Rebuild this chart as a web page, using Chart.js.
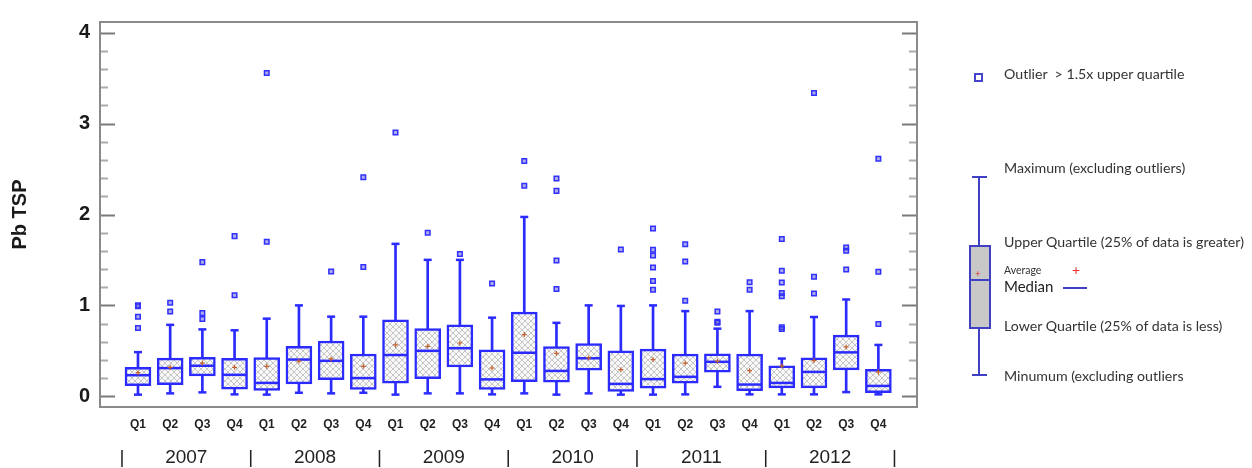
<!DOCTYPE html>
<html>

<head>
  <meta charset="UTF-8" />
  <title>Pb TSP by quarter</title>
  <script src="https://cdn.jsdelivr.net/npm/chart.js"></script>
  <style>
    body { margin: 0; background: #fff; }
    .wrap { position: relative; width: 1252px; height: 468px; }
    .lg { position: absolute; font-family: "Lato", "Liberation Sans", sans-serif; color: #333; white-space: pre; line-height: 1; }
    .ln { position: absolute; background: #4040c4; }
  </style>
</head>

<body>
  <div class="wrap">
    <canvas id="boxChart" width="1252" height="468"></canvas>

    <!-- legend drawn as plain html -->
    <div style="position:absolute;left:974px;top:73px;width:5px;height:5px;border:2px solid #4444cc;background:#fff"></div>
    <div class="lg" style="left:1004px;top:67px;font-size:14.2px">Outlier  &gt; 1.5x upper quartile</div>

    <div class="ln" style="left:978px;top:177px;width:2px;height:198px"></div>
    <div class="ln" style="left:972px;top:176px;width:15px;height:2px"></div>
    <div class="ln" style="left:972px;top:374px;width:15px;height:2px"></div>
    <div style="position:absolute;left:969px;top:245px;width:18px;height:80px;border:2px solid #4040c4;background:#c8c8c8"></div>
    <div class="ln" style="left:970px;top:279px;width:20px;height:2px"></div>
    <div class="lg" style="left:975px;top:268px;font-size:10px;color:#e03030">+</div>

    <div class="lg" style="left:1004px;top:161px;font-size:14.2px">Maximum (excluding outliers)</div>
    <div class="lg" style="left:1004px;top:235px;font-size:14.2px">Upper Quartile (25% of data is greater)</div>
    <div class="lg" style="left:1004px;top:265px;font-size:10.5px">Average</div>
    <div class="lg" style="left:1072px;top:263px;font-size:14px;color:#e03030">+</div>
    <div class="lg" style="left:1004px;top:279px;font-size:15px;color:#222">Median</div>
    <div class="ln" style="left:1063px;top:287px;width:24px;height:2px"></div>
    <div class="lg" style="left:1004px;top:319px;font-size:14.2px">Lower Quartile (25% of data is less)</div>
    <div class="lg" style="left:1004px;top:369px;font-size:14.2px">Minumum (excluding outliers</div>
  </div>

  <script>
    // labels
    const quarters = ["Q1", "Q2", "Q3", "Q4"];
    const years = ["2007", "2008", "2009", "2010", "2011", "2012"];
    const yTicks = [0, 1, 2, 3, 4];

    // one entry per quarter, 2007 Q1 .. 2012 Q4
    const whiskerMin = [0.018, 0.032, 0.043, 0.021, 0.018, 0.039, 0.032, 0.039, 0.018, 0.032, 0.032, 0.021,
      0.032, 0.018, 0.032, 0.018, 0.018, 0.021, 0.104, 0.021, 0.021, 0.021, 0.046, 0.021];
    const lowerQ = [0.118, 0.129, 0.225, 0.079, 0.064, 0.136, 0.182, 0.075, 0.143, 0.193, 0.322, 0.075,
      0.161, 0.154, 0.286, 0.054, 0.089, 0.143, 0.265, 0.061, 0.093, 0.093, 0.29, 0.039];
    const median = [0.232, 0.31, 0.336, 0.236, 0.147, 0.404, 0.39, 0.2, 0.454, 0.5, 0.529, 0.186,
      0.479, 0.279, 0.418, 0.136, 0.189, 0.214, 0.379, 0.129, 0.147, 0.268, 0.483, 0.114];
    const upperQ = [0.318, 0.42, 0.429, 0.418, 0.425, 0.55, 0.608, 0.465, 0.84, 0.744, 0.786, 0.511,
      0.926, 0.547, 0.579, 0.5, 0.518, 0.465, 0.468, 0.465, 0.336, 0.422, 0.672, 0.297];
    const whiskerMax = [0.486, 0.786, 0.736, 0.726, 0.854, 1.0, 0.876, 0.876, 1.677, 1.501, 1.501, 0.865,
      1.973, 0.808, 1.0, 0.994, 1.0, 0.937, 0.744, 0.937, 0.415, 0.872, 1.065, 0.565];
    const average = [0.26, 0.318, 0.365, 0.318, 0.329, 0.386, 0.411, 0.329, 0.565, 0.55, 0.586, 0.311,
      0.679, 0.472, 0.422, 0.293, 0.404, 0.365, 0.386, 0.282, 0.332, 0.393, 0.543, 0.268];
    const outliers = [
      [1.0, 0.99, 0.876, 0.75], [1.03, 0.933], [1.476, 0.915, 0.85], [1.762, 1.112],
      [3.557, 1.70], [], [1.373], [2.41, 1.423],
      [2.903], [1.80], [1.566], [1.24],
      [2.588, 2.316], [2.395, 2.26, 1.494, 1.18], [], [1.616],
      [1.845, 1.612, 1.548, 1.416, 1.269, 1.172], [1.673, 1.483, 1.051], [0.933, 0.82, 0.808], [1.255, 1.172],
      [1.73, 1.38, 1.251, 1.137, 1.10, 0.76, 0.74], [3.338, 1.315, 1.13], [1.637, 1.601, 1.394], [2.613, 1.369, 0.794]
    ];

    const BLUE = "#2b2bff";
    const FONT = "'Liberation Sans', Arial, sans-serif";
    const X_MIN = -1.18, X_MAX = 24.2;

    function hatch() {
      const c = document.createElement("canvas");
      c.width = 6; c.height = 6;
      const g = c.getContext("2d");
      g.fillStyle = "#f8f8f8";
      g.fillRect(0, 0, 6, 6);
      g.strokeStyle = "#c6c6c6";
      g.lineWidth = 1;
      g.beginPath();
      g.moveTo(0, 0); g.lineTo(6, 6);
      g.moveTo(6, 0); g.lineTo(0, 6);
      g.stroke();
      return g.createPattern(c, "repeat");
    }

    const idx = median.map((_, i) => i);
    const outlierPts = [];
    outliers.forEach((list, i) => list.forEach(v => outlierPts.push({ x: i, y: v })));

    // frame + the little ticks that sit inside the plot
    const framePlugin = {
      id: "frame",
      afterDraw(chart) {
        const { ctx, chartArea: a, scales } = chart;
        ctx.save();
        ctx.lineWidth = 2;
        for (let v = 0; v <= 4.001; v += 0.2) {
          const y = Math.round(scales.y.getPixelForValue(v)) + 0.5;
          const major = Math.abs(v - Math.round(v)) < 0.01;
          const len = major ? 15 : 8;
          ctx.strokeStyle = major ? "#7a7a7a" : "#ababab";
          ctx.beginPath();
          ctx.moveTo(a.left, y); ctx.lineTo(a.left + len, y);
          ctx.moveTo(a.right, y); ctx.lineTo(a.right - len, y);
          ctx.stroke();
        }
        ctx.strokeStyle = "#8a8a8a";
        ctx.strokeRect(a.left, a.top, a.right - a.left, a.bottom - a.top);
        ctx.restore();
      }
    };

    const noGrid = { display: false, drawTicks: false, tickLength: 0 };

    new Chart(document.getElementById("boxChart"), {
      type: "bar",
      data: {
        datasets: [
          {
            label: "whisker",
            data: idx.map(i => ({ x: i, y: [whiskerMin[i], whiskerMax[i]] })),
            backgroundColor: BLUE,
            borderWidth: 0,
            barThickness: 2,
            grouped: false,
            order: 6
          },
          {
            label: "box",
            data: idx.map(i => ({ x: i, y: [lowerQ[i], upperQ[i]] })),
            backgroundColor: hatch(),
            borderColor: BLUE,
            borderWidth: 2.5,
            borderSkipped: false,
            barThickness: 26,
            grouped: false,
            order: 5
          },
          {
            type: "scatter",
            label: "caps",
            data: idx.map(i => ({ x: i, y: whiskerMin[i] })).concat(idx.map(i => ({ x: i, y: whiskerMax[i] }))),
            pointStyle: "line",
            pointRadius: 4,
            borderColor: BLUE,
            borderWidth: 2.5,
            order: 4
          },
          {
            type: "scatter",
            label: "median",
            data: idx.map(i => ({ x: i, y: median[i] })),
            pointStyle: "line",
            pointRadius: 12,
            borderColor: BLUE,
            borderWidth: 2.5,
            order: 3
          },
          {
            type: "scatter",
            label: "average",
            data: idx.map(i => ({ x: i, y: average[i] })),
            pointStyle: "cross",
            pointRadius: 2.5,
            borderColor: "#c2622e",
            borderWidth: 1.2,
            order: 2
          },
          {
            type: "scatter",
            label: "outlier",
            data: outlierPts,
            pointStyle: "rect",
            pointRadius: 3.2,
            backgroundColor: "rgba(80,70,200,0.45)",
            borderColor: "#3030ff",
            borderWidth: 1.5,
            order: 1
          }
        ]
      },
      options: {
        responsive: false,
        animation: false,
        events: [],
        layout: { padding: { left: 0, right: 335, top: 12, bottom: 0 } },
        plugins: { legend: { display: false }, tooltip: { enabled: false } },
        scales: {
          x: {
            type: "linear",
            min: X_MIN,
            max: X_MAX,
            offset: false,
            weight: 0,
            grid: noGrid,
            border: { display: false },
            afterBuildTicks: s => { s.ticks = idx.map(v => ({ value: v })); },
            afterFit: s => { s.height = 26; },
            ticks: {
              autoSkip: false,
              maxRotation: 0,
              padding: 10,
              color: "#222",
              font: { family: FONT, size: 12, weight: "bold" },
              callback: v => quarters[Math.round(v) % 4]
            }
          },
          x2: {
            type: "linear",
            position: "bottom",
            min: X_MIN,
            max: X_MAX,
            offset: false,
            weight: 1,
            grid: noGrid,
            border: { display: false },
            afterBuildTicks: s => {
              const t = [];
              for (let v = -0.5; v <= 23.5; v += 2) t.push({ value: v });
              s.ticks = t;
            },
            afterFit: s => { s.height = 35; },
            ticks: {
              autoSkip: false,
              maxRotation: 0,
              padding: 13,
              color: "#222",
              font: { family: FONT, size: 19 },
              callback: v => ((v + 0.5) % 4 === 0 ? "|" : years[Math.round((v - 1.5) / 4)])
            }
          },
          y: {
            min: -0.118,
            max: 4.118,
            grid: noGrid,
            border: { display: false },
            afterBuildTicks: s => { s.ticks = yTicks.map(v => ({ value: v })); },
            afterFit: s => { s.width = 100; },
            ticks: {
              padding: 10,
              color: "#1a1a1a",
              font: { family: FONT, size: 20, weight: "bold" }
            },
            title: {
              display: true,
              text: "Pb TSP",
              color: "#1a1a1a",
              padding: { top: 8, bottom: 0 },
              font: { family: FONT, size: 20, weight: "bold" }
            }
          }
        }
      },
      plugins: [framePlugin]
    });
  </script>
</body>

</html>
